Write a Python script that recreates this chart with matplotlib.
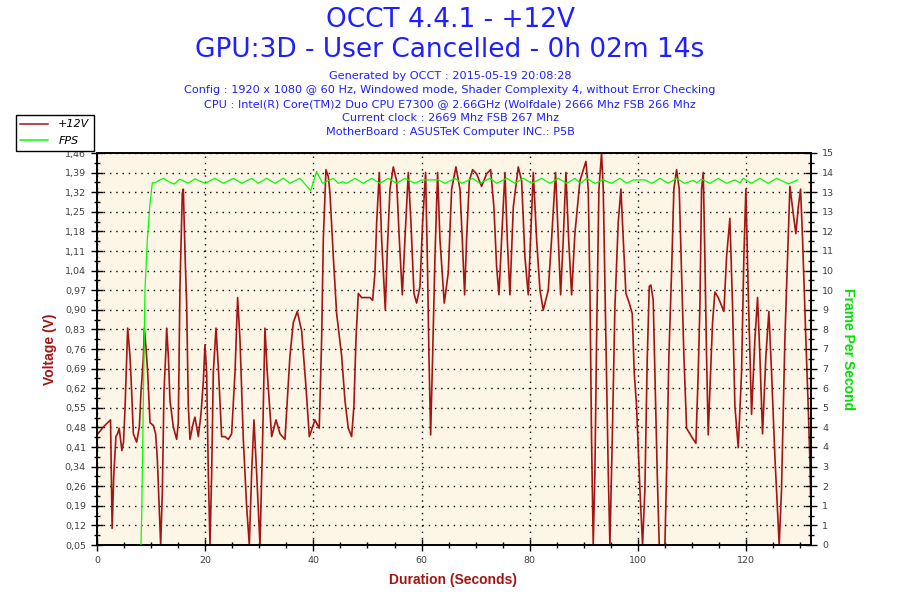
"""
OCCT +12V rail log with the GPU frame rate on a second axis.
"""
import matplotlib

matplotlib.use("Agg")
import matplotlib.pyplot as plt
import numpy as np
from matplotlib.lines import Line2D
from matplotlib.ticker import MultipleLocator, AutoMinorLocator


# Header text
title_lines = ["OCCT 4.4.1 - +12V", "GPU:3D - User Cancelled - 0h 02m 14s"]
info_lines = [
    "Generated by OCCT : 2015-05-19 20:08:28",
    "Config : 1920 x 1080 @ 60 Hz, Windowed mode, Shader Complexity 4, without Error Checking",
    "CPU : Intel(R) Core(TM)2 Duo CPU E7300 @ 2.66GHz (Wolfdale) 2666 Mhz FSB 266 Mhz",
    "Current clock : 2669 Mhz FSB 267 Mhz",
    "MotherBoard : ASUSTeK Computer INC.: P5B",
]

# +12V reading (seconds, volts as drawn by OCCT)
volt_time = [
    0.0, 1.2, 2.5, 2.8, 3.1, 3.5, 3.8, 4.1, 4.6, 4.9,
    5.18, 5.67, 6.10, 6.41, 6.72, 7.33, 7.83, 8.13, 8.56, 8.75,
    9.06, 9.37, 9.80, 10.41, 10.84, 11.15, 11.46, 11.77, 12.08, 12.38,
    12.69, 12.88, 13.19, 13.49, 14.11, 14.73, 15.03, 15.34, 15.77, 15.96,
    16.27, 16.57, 16.88, 17.19, 17.81, 18.11, 18.73, 19.22, 19.66, 19.96,
    20.27, 20.58, 20.89, 21.20, 21.50, 22.00, 22.43, 23.04, 23.66, 24.28,
    24.89, 25.51, 26.00, 26.43, 27.05, 27.66, 28.16, 28.59, 29.02, 29.51,
    30.13, 30.62, 31.05, 31.48, 32.29, 33.09, 33.83, 34.75, 35.67, 36.29,
    37.03, 37.83, 38.63, 39.25, 40.29, 41.09, 41.53, 41.84, 42.33, 42.76,
    43.07, 43.69, 44.30, 45.23, 45.84, 46.46, 47.07, 47.50, 47.88, 48.31,
    48.92, 50.46, 50.96, 51.39, 51.70, 52.19, 52.62, 53.30, 53.67, 54.16,
    54.78, 55.39, 55.89, 56.44, 56.93, 57.55, 58.04, 58.60, 59.09, 59.71,
    60.20, 60.75, 61.12, 61.37, 61.68, 62.05, 62.48, 62.97, 63.40, 64.20,
    64.94, 65.56, 66.36, 67.10, 67.53, 67.96, 68.33, 68.83, 69.44, 70.18,
    71.10, 72.03, 72.77, 73.38, 73.88, 74.31, 74.80, 75.42, 75.85, 76.34,
    76.96, 77.88, 78.50, 79.11, 79.73, 80.16, 80.66, 81.27, 81.89, 82.50,
    83.43, 84.04, 84.78, 85.28, 85.71, 86.20, 86.69, 87.19, 87.74, 88.35,
    89.28, 90.39, 90.82, 91.13, 91.43, 91.74, 92.05, 92.36, 92.79, 93.28,
    93.59, 94.08, 94.52, 94.82, 95.26, 95.75, 96.36, 96.86, 97.29, 97.78,
    98.40, 98.95, 99.32, 99.75, 100.37, 100.86, 101.29, 101.72, 102.10, 102.40,
    102.83, 103.14, 103.57, 103.94, 104.99, 105.30, 105.73, 106.22, 106.65, 107.15,
    107.64, 108.07, 108.50, 109.00, 109.61, 110.23, 110.72, 111.15, 111.46, 111.77,
    112.08, 112.38, 112.69, 113.00, 113.31, 113.80, 114.23, 114.85, 115.90, 116.39,
    117.00, 117.50, 117.93, 118.55, 119.16, 119.59, 119.96, 120.39, 121.01, 121.63,
    122.12, 122.55, 123.04, 123.66, 124.21, 124.71, 125.32, 126.12, 126.55, 127.17,
    127.79, 128.10, 128.71, 129.20, 129.64, 130.07, 130.44, 131.05, 131.48, 131.79,
    131.92,
]
volt_value = [
    0.446, 0.475, 0.50, 0.11, 0.30, 0.44, 0.45, 0.47, 0.39, 0.42,
    0.54, 0.83, 0.73, 0.60, 0.45, 0.42, 0.475, 0.60, 0.72, 0.83,
    0.76, 0.67, 0.49, 0.48, 0.45, 0.36, 0.20, 0.05, 0.24, 0.60,
    0.73, 0.83, 0.73, 0.57, 0.475, 0.43, 0.49, 0.98, 1.315, 1.33,
    1.10, 0.92, 0.55, 0.43, 0.49, 0.51, 0.44, 0.52, 0.64, 0.77,
    0.67, 0.31, 0.05, 0.31, 0.67, 0.83, 0.69, 0.44, 0.44, 0.43,
    0.45, 0.67, 0.94, 0.79, 0.43, 0.19, 0.05, 0.31, 0.50, 0.31,
    0.05, 0.43, 0.83, 0.67, 0.44, 0.50, 0.45, 0.43, 0.73, 0.85,
    0.89, 0.82, 0.62, 0.44, 0.50, 0.47, 0.79, 1.15, 1.40, 1.375,
    1.315, 1.087, 0.883, 0.73, 0.57, 0.47, 0.44, 0.55, 0.79, 0.955,
    0.94, 0.94, 0.93, 1.03, 1.21, 1.39, 1.15, 0.895, 1.11, 1.33,
    1.41, 1.36, 1.15, 0.95, 1.15, 1.39, 1.21, 0.955, 0.92, 0.98,
    1.21, 1.39, 1.03, 0.73, 0.446, 0.73, 1.087, 1.39, 1.15, 0.92,
    1.03, 1.33, 1.41, 1.33, 1.15, 0.95, 1.15, 1.36, 1.40, 1.385,
    1.34, 1.385, 1.40, 1.265, 1.05, 0.95, 1.15, 1.39, 1.15, 0.95,
    1.265, 1.41, 1.36, 1.087, 0.95, 1.15, 1.39, 1.15, 0.967, 0.895,
    0.967, 1.15, 1.39, 1.15, 0.95, 1.15, 1.39, 1.15, 0.95, 1.17,
    1.36, 1.43, 1.33, 0.967, 0.43, 0.05, 0.31, 0.79, 1.33, 1.46,
    1.33, 0.79, 0.31, 0.05, 0.43, 0.907, 1.21, 1.33, 1.15, 0.955,
    0.92, 0.883, 0.67, 0.55, 0.25, 0.05, 0.25, 0.715, 0.98, 0.985,
    0.93, 0.67, 0.31, 0.05, 0.05, 0.31, 0.73, 1.03, 1.33, 1.40,
    1.33, 1.03, 0.73, 0.47, 0.45, 0.43, 0.416, 0.67, 0.907, 1.33,
    1.39, 1.087, 0.73, 0.446, 0.61, 0.85, 0.96, 0.94, 0.89, 1.087,
    1.225, 0.907, 0.55, 0.40, 0.67, 1.087, 1.33, 0.967, 0.52, 0.79,
    0.94, 0.73, 0.45, 0.73, 0.89, 0.67, 0.37, 0.05, 0.25, 0.79,
    1.15, 1.34, 1.243, 1.17, 1.265, 1.33, 1.15, 0.79, 0.55, 0.356,
    0.23,
]

# Frame rate (seconds, FPS)
fps_time = [
    8.13, 8.26, 8.56, 8.87, 9.30, 9.80, 10.23, 10.72, 11.34, 12.26,
    13.30, 14.30, 15.30, 16.88, 18.10, 19.96, 21.81, 23.35, 25.20, 26.74,
    28.59, 29.82, 31.36, 32.90, 34.44, 35.67, 37.52, 39.50, 40.60, 41.71,
    42.33, 43.68, 44.60, 45.40, 46.15, 47.69, 49.23, 50.77, 52.31, 53.85,
    55.39, 56.93, 58.78, 60.02, 63.10, 64.33, 66.18, 67.41, 69.44, 70.80,
    72.64, 73.88, 75.73, 77.27, 78.80, 80.35, 82.19, 83.74, 85.28, 86.82,
    88.36, 89.40, 90.51, 92.05, 93.59, 95.10, 96.67, 97.90, 99.14, 101.29,
    102.60, 104.07, 105.60, 107.15, 108.60, 110.20, 110.90, 111.77, 113.30, 114.85,
    116.40, 117.90, 118.90, 119.47, 121.00, 122.55, 124.10, 125.63, 127.90, 129.51,
]
fps_value = [
    0.0, 1.08, 5.42, 9.76, 11.67, 13.07, 13.86, 13.86, 13.94, 14.03,
    13.90, 13.81, 14.00, 13.84, 14.01, 13.84, 14.03, 13.84, 14.03, 13.84,
    14.03, 13.84, 14.03, 13.84, 14.03, 13.84, 14.03, 13.56, 14.29, 13.84,
    13.90, 14.03, 13.84, 13.90, 13.84, 14.03, 13.84, 14.03, 13.84, 14.03,
    13.84, 14.03, 13.84, 13.97, 13.97, 13.84, 14.03, 13.84, 14.03, 13.84,
    14.03, 13.84, 14.03, 13.84, 14.03, 13.84, 14.03, 13.84, 14.03, 13.84,
    14.03, 13.84, 14.03, 13.84, 13.97, 13.84, 14.03, 13.84, 13.97, 13.97,
    13.84, 14.03, 13.84, 14.03, 13.84, 13.95, 13.86, 14.00, 13.84, 14.03,
    13.84, 13.97, 13.86, 14.03, 13.84, 14.03, 13.84, 14.03, 13.82, 13.97,
]

# Axis ticks as OCCT prints them
x_ticks = [0, 20, 40, 60, 80, 100, 120]
volt_ticklabels = [
    "0,05", "0,12", "0,19", "0,26", "0,34", "0,41", "0,48", "0,55", "0,62", "0,69",
    "0,76", "0,83", "0,90", "0,97", "1,04", "1,11", "1,18", "1,25", "1,32", "1,39",
    "1,46",
]
fps_ticklabels = [
    "0", "1", "1", "2", "3", "4", "4", "5", "6", "7",
    "7", "8", "9", "10", "10", "11", "12", "13", "13", "14",
    "15",
]

VOLT_MIN, VOLT_MAX = 0.05, 1.46
FPS_MIN, FPS_MAX = 0, 15
X_MAX = 132

TITLE_BLUE = "#1f1fff"
VOLT_RED = "#a31515"
FPS_GREEN = "#00ff00"
PLOT_BG = "#fdf5e6"
TICK_GREY = "#404040"

fig = plt.figure(figsize=(9, 6), dpi=100)
fig.patch.set_facecolor("white")

# Plot area in figure pixels: x 97..811, y 153..545
ax = fig.add_axes((97 / 900, 55 / 600, 714 / 900, 392 / 600))
ax.set_facecolor(PLOT_BG)
ax2 = ax.twinx()
ax2.patch.set_visible(False)

ax.plot(volt_time, volt_value, color=VOLT_RED, lw=1.2, zorder=3)
ax2.plot(fps_time, fps_value, color=FPS_GREEN, lw=0.9, zorder=3)

ax.set_xlim(0, X_MAX)
ax.set_ylim(VOLT_MIN, VOLT_MAX)
ax2.set_ylim(FPS_MIN, FPS_MAX)

volt_ticks = np.linspace(VOLT_MIN, VOLT_MAX, len(volt_ticklabels))
fps_ticks = np.linspace(FPS_MIN, FPS_MAX, len(fps_ticklabels))

ax.set_xticks(x_ticks)
ax.set_xticklabels([str(t) for t in x_ticks])
ax.xaxis.set_minor_locator(MultipleLocator(5))
ax.set_yticks(volt_ticks)
ax.set_yticklabels(volt_ticklabels)
ax.yaxis.set_minor_locator(AutoMinorLocator(2))
ax2.set_yticks(fps_ticks)
ax2.set_yticklabels(fps_ticklabels)
ax2.yaxis.set_minor_locator(AutoMinorLocator(2))

for a in (ax, ax2):
    a.tick_params(which="major", direction="inout", length=8, width=1,
                  color="black", labelsize=6.8, labelcolor=TICK_GREY, pad=4)
    a.tick_params(which="minor", direction="inout", length=5, width=1, color="black")
    for s in a.spines.values():
        s.set_color("black")
        s.set_linewidth(1.2)

# Dotted grid on the major ticks
ax.grid(True, which="major", color="black", lw=1.0, linestyle=(0, (1, 3.5)), zorder=1)
ax.set_axisbelow(True)

# Titles
fig.text(0.5, 1 - 20 / 600, title_lines[0], ha="center", va="center",
         color=TITLE_BLUE, fontsize=19)
fig.text(0.5, 1 - 50 / 600, title_lines[1], ha="center", va="center",
         color=TITLE_BLUE, fontsize=19)
for i, line in enumerate(info_lines):
    fig.text(0.5, 1 - (76 + 14 * i) / 600, line, ha="center", va="center",
             color=TITLE_BLUE, fontsize=8.15)

# Axis titles
label_font = ["Liberation Sans Narrow", "Liberation Sans", "DejaVu Sans"]
fig.text(50 / 900, 1 - 349 / 600, "Voltage (V)", rotation=90, ha="center",
         va="center", color=VOLT_RED, fontsize=10, fontweight="bold", family=label_font)
fig.text(848 / 900, 1 - 349 / 600, "Frame Per Second", rotation=270, ha="center",
         va="center", color="#00e000", fontsize=10, fontweight="bold", family=label_font)
fig.text(453 / 900, 1 - 580 / 600, "Duration (Seconds)", ha="center",
         va="center", color=VOLT_RED, fontsize=10, fontweight="bold", family=label_font)

# Legend box top left
handles = [
    Line2D([], [], color=VOLT_RED, lw=1.1),
    Line2D([], [], color=FPS_GREEN, lw=1.1),
]
leg = fig.legend(handles, ["+12V", "FPS"], loc="upper left",
                 bbox_to_anchor=(16 / 900, 1 - 115 / 600), fancybox=False,
                 edgecolor="black", framealpha=1, borderpad=0.4,
                 handlelength=2.5, handletextpad=0.9, labelspacing=0.6,
                 prop={"size": 8, "style": "italic"}, borderaxespad=0)
leg.get_frame().set_linewidth(1.0)

plt.savefig("out.png", dpi=100)
print("saved out.png")
